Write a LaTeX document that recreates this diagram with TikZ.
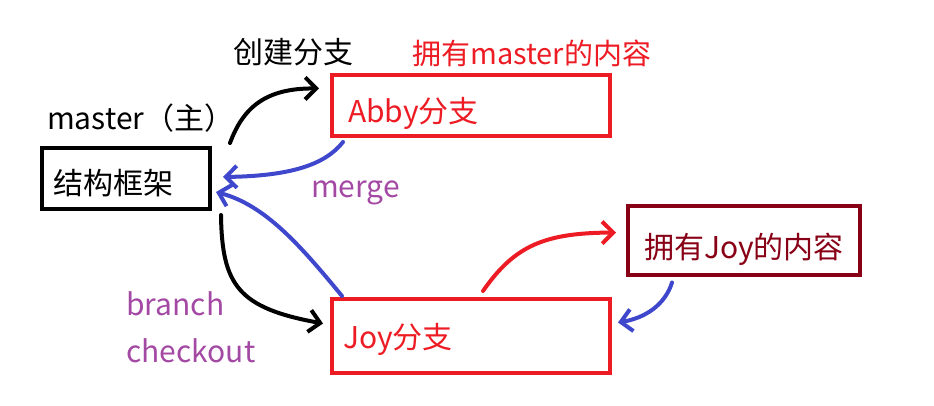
\documentclass[tikz,border=0pt]{standalone}
\usepackage{fontspec}
\setmainfont{Noto Sans CJK SC}
\usepackage{xcolor}
\usetikzlibrary{arrows.meta}

\definecolor{penred}{HTML}{ED1C24}
\definecolor{penblue}{HTML}{3F48CC}
\definecolor{penpurple}{HTML}{A349A4}
\definecolor{pendark}{HTML}{880015}

\begin{document}
\begin{tikzpicture}[x=1pt,y=-1pt,
	box/.style={draw,line width=4pt,rectangle,inner ysep=0pt,text depth=0pt,font=\fontsize{30}{36}\selectfont},
	word/.style={anchor=base west,inner sep=0pt,font=\fontsize{30}{36}\selectfont},
	pen/.style={line width=4pt,line cap=round,-{Straight Barb[length=11pt,width=22pt]}}]
\useasboundingbox (0,0) rectangle (934,406);

\node[box,black,inner xsep=11.5pt,text width=145pt,align=left,minimum height=61pt,text height=33pt] (master) at (126,178.5) {结构框架};
\node[box,penred,inner xsep=16pt,text width=246pt,align=left,minimum height=61pt,text height=35pt] (abby) at (471,105.5) {Abby分支};
\node[box,penred,inner xsep=11pt,text width=256pt,align=left,minimum height=74pt,text height=24pt] (joy) at (471,336) {Joy分支};
\node[box,pendark,inner xsep=0pt,text width=232pt,align=center,minimum height=69pt,text height=35pt] (joyc) at (744,240.5) {拥有Joy的内容};

\node[word] (create) at (233,64) {创建分支};
\node[word,penred,font=\fontsize{29}{34}\selectfont] (own) at (412,65) {拥有master的内容};
\node[word] (main) at (47,130) {master（主）};
\node[word,penpurple] (merge) at (311,197) {merge};
\node[word,penpurple] (branch) at (126,315) {branch};
\node[word,penpurple] (checkout) at (126,362) {checkout};

\draw[pen,black] ([xshift=18pt,yshift=3pt]master.north east) .. controls (243,108) and (265,88) .. ([xshift=-11pt,yshift=17pt]abby.west);
\draw[pen,penblue] ([xshift=13pt,yshift=-4pt]abby.south west) .. controls (325,165) and (290,176) .. ([xshift=11pt,yshift=1.5pt]master.east);
\draw[pen,penblue] ([xshift=12pt,yshift=1pt]joy.north west) .. controls (300,245) and (265,205) .. ([xshift=4pt,yshift=-13.5pt]master.east);
\draw[pen,black] ([xshift=9pt,yshift=-4pt]master.south east) .. controls (222,285) and (238,308) .. ([xshift=-7pt,yshift=12.5pt]joy.west);
\draw[pen,penred] ([xshift=12pt,yshift=6pt]joy.north) .. controls (515,245) and (545,233) .. ([xshift=-10pt,yshift=8pt]joyc.west);
\draw[pen,penblue] ([xshift=46pt,yshift=-5.5pt]joyc.south west) .. controls (665,305) and (645,318) .. ([xshift=6pt,yshift=13.5pt]joy.east);

\end{tikzpicture}
\end{document}
